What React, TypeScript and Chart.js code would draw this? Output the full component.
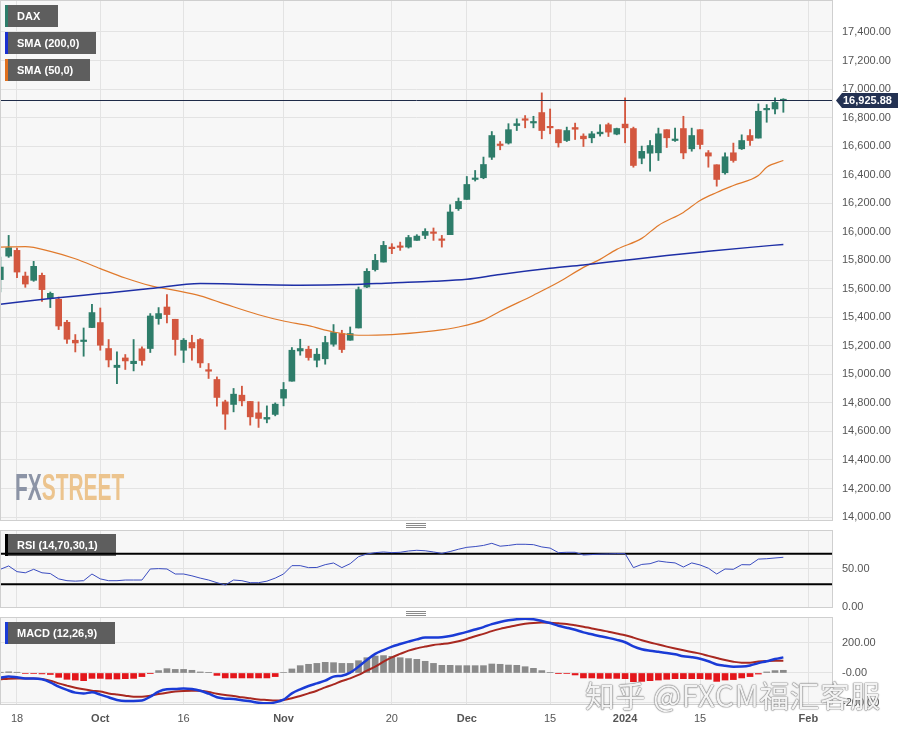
import React, { useEffect, useRef } from 'react';
import { Chart, registerables } from 'chart.js';

Chart.register(...registerables);

const FONT = 'Arial, "Liberation Sans", sans-serif';

// ---- DAX daily candles (trading-day index 0 = 14 Sep 2023 ... 94 = 29 Jan 2024)
const open = [
  15664, 15829, 15869, 15689, 15659, 15694, 15531, 15526, 15365, 15239,
  15230, 15328, 15363, 15181, 15048, 15115, 15075, 15179, 15181, 15391,
  15472, 15386, 15169, 15223, 15244, 15029, 14964, 14807, 14789, 14854,
  14810, 14730, 14686, 14719, 14833, 14952, 15164, 15176, 15099, 15109,
  15211, 15286, 15239, 15325, 15612, 15734, 15787, 15892, 15899, 15892,
  15939, 15974, 15997, 15946, 15979, 16161, 16226, 16366, 16378, 16522,
  16611, 16621, 16744, 16791, 16762, 16835, 16737, 16715, 16639, 16730,
  16670, 16658, 16686, 16750, 16684, 16754, 16723, 16515, 16550, 16553,
  16715, 16639, 16723, 16581, 16715, 16553, 16469, 16413, 16553, 16581,
  16674, 16656, 16854, 16860, 16918,
];
const high = [
  15822, 15974, 15885, 15717, 15792, 15710, 15577, 15542, 15379, 15279,
  15325, 15491, 15465, 15244, 15157, 15139, 15244, 15193, 15426, 15468,
  15559, 15386, 15251, 15274, 15251, 15076, 14982, 14819, 14901, 14917,
  14810, 14807, 14779, 14800, 14943, 15188, 15246, 15197, 15181, 15267,
  15349, 15309, 15332, 15612, 15741, 15841, 15932, 15916, 15927, 15974,
  15979, 16021, 16026, 15974, 16189, 16236, 16387, 16429, 16523, 16702,
  16632, 16757, 16791, 16814, 16809, 16973, 16860, 16715, 16733, 16761,
  16686, 16702, 16750, 16761, 16726, 16938, 16733, 16600, 16639, 16726,
  16715, 16726, 16809, 16726, 16715, 16569, 16469, 16553, 16621, 16679,
  16715, 16896, 16891, 16938, 16932,
];
const low = [
  15577, 15820, 15678, 15610, 15652, 15512, 15468, 15314, 15216, 15157,
  15127, 15328, 15169, 15052, 14935, 15034, 15024, 15064, 15153, 15351,
  15360, 15134, 15083, 15099, 15048, 14971, 14777, 14614, 14737, 14779,
  14644, 14628, 14660, 14709, 14779, 14952, 15134, 15099, 15052, 15071,
  15197, 15153, 15239, 15325, 15608, 15724, 15787, 15846, 15869, 15885,
  15939, 15951, 15939, 15892, 15979, 16149, 16226, 16355, 16371, 16506,
  16574, 16614, 16709, 16728, 16728, 16651, 16686, 16593, 16632, 16646,
  16597, 16623, 16670, 16667, 16679, 16623, 16452, 16476, 16424, 16499,
  16590, 16632, 16511, 16564, 16581, 16452, 16319, 16404, 16487, 16576,
  16604, 16656, 16767, 16826, 16837,
];
const close = [
  15752, 15888, 15717, 15633, 15757, 15594, 15568, 15339, 15246, 15220,
  15233, 15433, 15204, 15101, 15064, 15094, 15092, 15097, 15409, 15426,
  15419, 15244, 15239, 15185, 15080, 15022, 14838, 14721, 14861, 14814,
  14702, 14691, 14698, 14791, 14894, 15169, 15181, 15118, 15141, 15223,
  15293, 15174, 15286, 15594, 15722, 15799, 15904, 15881, 15890, 15959,
  15969, 16002, 15988, 15939, 16138, 16212, 16331, 16376, 16471, 16674,
  16604, 16715, 16757, 16781, 16769, 16709, 16728, 16623, 16709, 16718,
  16651, 16686, 16698, 16698, 16723, 16728, 16464, 16563, 16604, 16686,
  16658, 16646, 16552, 16674, 16611, 16530, 16366, 16525, 16499, 16639,
  16639, 16844, 16861, 16906, 16925.88,
];
const lastPrice = 16925.88;

// ---- moving averages (read at sample trading-day indexes)
const sma200Idx = [0, 6, 12, 18, 24, 30, 36, 42, 47, 52, 56, 60, 66, 70, 75, 80, 85, 90, 94];
const sma200Val = [15491, 15531, 15566, 15601, 15636, 15630, 15625, 15629, 15641, 15652, 15666, 15700, 15743, 15766, 15800, 15833, 15862, 15890, 15911];
const sma50Idx = [0, 3, 6, 9, 12, 15, 18, 21, 24, 27, 31, 34, 37, 40, 43, 47, 52, 55, 58, 60, 64, 67, 70, 72, 74, 77, 79, 82, 84, 86, 88, 91, 92, 94];
const sma50Val = [15892, 15895, 15862, 15810, 15741, 15675, 15622, 15588, 15550, 15492, 15418, 15374, 15341, 15297, 15274, 15279, 15305, 15332, 15380, 15442, 15555, 15645, 15750, 15806, 15876, 15953, 16044, 16135, 16219, 16275, 16324, 16394, 16452, 16499];

// ---- RSI (14)
const rsi = [
  49.6, 54, 46.5, 45, 49.6, 45, 44, 37, 34.6, 34,
  34.6, 43.4, 37, 34.6, 34.6, 35.5, 35.5, 35.5, 50, 50.5,
  50, 43.4, 43.4, 41, 38, 35.5, 32, 29, 35.5, 34.6,
  32, 32, 34, 38, 43.4, 54.4, 54.4, 51.8, 52, 55.7,
  57.9, 51.8, 57, 66.2, 69.7, 71.5, 72.4, 71.5, 72, 73.7,
  74.6, 74, 72.4, 70.6, 73, 76, 78.5, 79.5, 81, 83.8,
  80, 81, 82.5, 82.5, 82, 79, 77.5, 71.5, 72, 72,
  68.4, 69, 69.5, 69.8, 70.2, 70.2, 51.8, 56, 57, 60.5,
  59, 58, 52.6, 58, 55.3, 51, 43.4, 50, 49.6, 55.7,
  55.5, 63, 63.5, 64.5, 65.4,
];
const rsiUpper = 70;
const rsiLower = 30;

// ---- MACD (12,26,9)
const macd = [
  -31, -24, -29, -36, -36, -42, -62, -91, -113, -131,
  -136, -129, -144, -162, -180, -187, -187, -184, -158, -124,
  -109, -107, -104, -107, -118, -138, -162, -171, -173, -182,
  -189, -198, -202, -196, -178, -136, -109, -87, -69, -51,
  -24, -18, 2, 42, 87, 127, 153, 176, 193, 209,
  224, 236, 236, 238, 247, 260, 274, 290, 306, 326,
  340, 351, 359, 362, 359, 347, 333, 315, 302, 288,
  271, 258, 245, 234, 221, 205, 177, 158, 148, 141,
  134, 125, 112, 105, 95, 78, 57, 48, 42, 43,
  50, 66, 78, 93, 104,
];
const signal = [
  -42, -38, -36, -36, -36, -40, -51, -69, -84, -98,
  -109, -118, -124, -136, -144, -151, -158, -158, -151, -140,
  -131, -124, -120, -118, -118, -127, -138, -147, -153, -162,
  -169, -176, -180, -184, -180, -169, -153, -136, -118, -96,
  -76, -53, -36, -13, 16, 42, 76, 104, 127, 149,
  164, 176, 187, 193, 200, 212, 227, 245, 261, 279,
  294, 306, 319, 328, 334, 336, 335, 331, 326, 318,
  309, 297, 287, 275, 263, 252, 236, 218, 203, 190,
  176, 163, 151, 140, 129, 114, 100, 86, 75, 69,
  69, 76, 80, 82, 82,
];
const hist = [
  5, 8, 5, -3, -4, -6, -10, -29, -42, -47,
  -51, -36, -36, -40, -40, -38, -36, -24, -2, 16,
  29, 24, 24, 18, 7, 2, -16, -33, -33, -33,
  -33, -33, -33, -24, 3, 27, 49, 58, 64, 71,
  69, 64, 64, 82, 102, 113, 116, 111, 102, 96,
  91, 78, 64, 51, 51, 49, 49, 49, 49, 60,
  58, 53, 51, 42, 31, 16, 4, -2, -4, -13,
  -33, -33, -36, -36, -36, -38, -58, -56, -51, -47,
  -42, -38, -38, -38, -38, -42, -56, -47, -44, -33,
  -24, -7, 7, 16, 18,
];

// ---- axis ticks
const xTickIdx = [2, 12, 22, 34, 47, 56, 66, 75, 84, 97];
const xTickLabels = ['18', 'Oct', '16', 'Nov', '20', 'Dec', '15', '2024', '15', 'Feb'];
const xTickBold = [false, true, false, true, false, true, false, true, false, true];
const priceTicks = [14000, 14200, 14400, 14600, 14800, 15000, 15200, 15400, 15600, 15800, 16000, 16200, 16400, 16600, 16800, 17000, 17200, 17400];
const rsiTicks = [0, 50];
const macdTicks = [-200, 0, 200];
const macdTickLabels = ['-200.00', '-0.00', '200.00'];

const X_MIN = -0.04;
const X_MAX = 99.96;
const PAD = 18;
const GREEN = '#2e7d6a';
const RED = '#d3573f';
const GRID = '#e3e3e3';
const PLOT_BG = '#f7f7f7';

function fmt(v: number) {
  return v.toLocaleString('en-US', { minimumFractionDigits: 2, maximumFractionDigits: 2 });
}

function xScale(show: boolean): any {
  return {
    type: 'linear',
    min: X_MIN,
    max: X_MAX,
    offset: false,
    afterBuildTicks: (s: any) => {
      s.ticks = xTickIdx.map((v) => ({ value: v }));
    },
    afterFit: show ? (s: any) => { s.height = 26; } : undefined,
    grid: { color: GRID, drawTicks: false, offset: false },
    border: { display: false },
    ticks: show
      ? {
          autoSkip: false,
          maxRotation: 0,
          padding: 8,
          color: '#555',
          font: (ctx: any) => ({ family: FONT, size: 11, weight: xTickBold[ctx.index] ? 'bold' : 'normal' }),
          callback: (_v: any, i: number) => xTickLabels[i],
        }
      : { display: false, callback: (_v: any, i: number) => xTickLabels[i] },
  };
}

function yScale(min: number, max: number, ticks: number[], labels?: string[]): any {
  return {
    type: 'linear',
    position: 'right',
    min,
    max,
    beginAtZero: false,
    afterBuildTicks: (s: any) => {
      s.ticks = ticks.map((v) => ({ value: v }));
    },
    afterFit: (s: any) => {
      s.width = 65;
    },
    grid: { color: GRID, drawTicks: false },
    border: { display: false },
    ticks: {
      autoSkip: false,
      padding: 9,
      color: '#555',
      font: { family: FONT, size: 11 },
      callback: (v: any, i: number) => (labels ? labels[i] : fmt(Number(v))),
    },
  };
}

type Box = { text: string; stripe: string; x: number; y: number; w: number; h: number };

function panelPlugin(boxes: Box[]) {
  return {
    id: 'panel',
    beforeDraw(chart: any) {
      const { ctx, chartArea: a } = chart;
      ctx.save();
      ctx.fillStyle = PLOT_BG;
      ctx.fillRect(a.left, a.top, a.right - a.left, a.bottom - a.top);
      ctx.restore();
    },
    beforeDatasetsDraw(chart: any) {
      const { ctx, chartArea: a } = chart;
      boxes.forEach((b) => {
        ctx.save();
        ctx.fillStyle = '#5e5e5e';
        ctx.fillRect(a.left + b.x, a.top + b.y, b.w, b.h);
        ctx.fillStyle = b.stripe;
        ctx.fillRect(a.left + b.x, a.top + b.y, 3, b.h);
        ctx.fillStyle = '#ffffff';
        ctx.font = 'bold 11px ' + FONT;
        ctx.textBaseline = 'middle';
        ctx.fillText(b.text, a.left + b.x + 12, a.top + b.y + b.h / 2 + 0.5);
        ctx.restore();
      });
    },
    afterDraw(chart: any) {
      const { ctx, chartArea: a } = chart;
      ctx.save();
      ctx.strokeStyle = '#cfcfcf';
      ctx.lineWidth = 1;
      ctx.strokeRect(a.left + 0.5, a.top + 0.5, a.right - a.left - 1, a.bottom - a.top);
      ctx.restore();
    },
  };
}

const priceLabelPlugin = {
  id: 'priceLabel',
  afterDatasetsDraw(chart: any) {
    const { ctx, chartArea: a, scales } = chart;
    const y = Math.round(scales.y.getPixelForValue(lastPrice)) + 0.5;
    ctx.save();
    ctx.strokeStyle = '#1e2b48';
    ctx.lineWidth = 1;
    ctx.beginPath();
    ctx.moveTo(a.left, y);
    ctx.lineTo(a.right, y);
    ctx.stroke();
    ctx.fillStyle = '#233152';
    ctx.beginPath();
    ctx.moveTo(a.right + 3, y);
    ctx.lineTo(a.right + 9, y - 7.5);
    ctx.lineTo(a.right + 65, y - 7.5);
    ctx.lineTo(a.right + 65, y + 7.5);
    ctx.lineTo(a.right + 9, y + 7.5);
    ctx.closePath();
    ctx.fill();
    ctx.fillStyle = '#ffffff';
    ctx.font = 'bold 11px ' + FONT;
    ctx.textBaseline = 'middle';
    ctx.fillText(fmt(lastPrice), a.right + 10, y + 0.5);
    ctx.restore();
  },
};

const candleColor = (i: number) => (close[i] >= open[i] ? GREEN : RED);

const baseOptions = (padBottom: number): any => ({
  animation: false,
  responsive: false,
  events: [],
  layout: { padding: { top: PAD, bottom: padBottom, left: 0, right: 0 } },
  plugins: { legend: { display: false }, tooltip: { enabled: false } },
});

export default function App() {
  const mainRef = useRef<HTMLCanvasElement>(null);
  const rsiRef = useRef<HTMLCanvasElement>(null);
  const macdRef = useRef<HTMLCanvasElement>(null);

  useEffect(() => {
    document.body.style.margin = '0';
    const charts: Chart[] = [];

    charts.push(
      new Chart(mainRef.current as HTMLCanvasElement, {
        type: 'bar',
        data: {
          datasets: [
            {
              type: 'line',
              label: 'SMA (200,0)',
              data: sma200Idx.map((x, i) => ({ x, y: sma200Val[i] })),
              borderColor: '#1e2fa6',
              borderWidth: 1.5,
              pointRadius: 0,
              cubicInterpolationMode: 'monotone',
              order: 0,
            },
            {
              type: 'line',
              label: 'SMA (50,0)',
              data: sma50Idx.map((x, i) => ({ x, y: sma50Val[i] })),
              borderColor: '#e07a2c',
              borderWidth: 1.2,
              pointRadius: 0,
              cubicInterpolationMode: 'monotone',
              order: 0,
            },
            {
              type: 'bar',
              label: 'body',
              data: open.map((o, i) => ({ x: i, y: [o, close[i]] })),
              backgroundColor: (c: any) => candleColor(c.dataIndex),
              barThickness: 6,
              minBarLength: 1.5,
              grouped: false,
              order: 1,
            },
            {
              type: 'bar',
              label: 'wick',
              data: low.map((l, i) => ({ x: i, y: [l, high[i]] })),
              backgroundColor: (c: any) => candleColor(c.dataIndex),
              barThickness: 1.2,
              grouped: false,
              order: 2,
            },
          ] as any,
        },
        options: {
          ...baseOptions(PAD),
          scales: { x: xScale(false), y: yScale(13979, 17624, priceTicks) },
        },
        plugins: [
          panelPlugin([
            { text: 'DAX', stripe: '#2e7d6a', x: 5, y: 5, w: 53, h: 22 },
            { text: 'SMA (200,0)', stripe: '#1a2fd0', x: 5, y: 32, w: 91, h: 22 },
            { text: 'SMA (50,0)', stripe: '#e0701e', x: 5, y: 59, w: 85, h: 22 },
          ]),
          priceLabelPlugin,
        ] as any,
      })
    );

    charts.push(
      new Chart(rsiRef.current as HTMLCanvasElement, {
        type: 'line',
        data: {
          datasets: [
            {
              label: 'RSI',
              data: rsi.map((v, i) => ({ x: i, y: v })),
              borderColor: '#3a4cc0',
              borderWidth: 1,
              pointRadius: 0,
              tension: 0,
            },
            {
              label: '70',
              data: [{ x: X_MIN, y: rsiUpper }, { x: X_MAX, y: rsiUpper }],
              borderColor: '#000000',
              borderWidth: 2,
              pointRadius: 0,
            },
            {
              label: '30',
              data: [{ x: X_MIN, y: rsiLower }, { x: X_MAX, y: rsiLower }],
              borderColor: '#000000',
              borderWidth: 2,
              pointRadius: 0,
            },
          ] as any,
        },
        options: {
          ...baseOptions(PAD),
          scales: { x: xScale(false), y: yScale(0, 101.3, rsiTicks) },
        },
        plugins: [panelPlugin([{ text: 'RSI (14,70,30,1)', stripe: '#000000', x: 5, y: 4, w: 111, h: 22 }])] as any,
      })
    );

    charts.push(
      new Chart(macdRef.current as HTMLCanvasElement, {
        type: 'bar',
        data: {
          datasets: [
            {
              type: 'line',
              label: 'MACD',
              data: macd.map((v, i) => ({ x: i, y: v })),
              borderColor: '#1a3bd6',
              borderWidth: 2.5,
              pointRadius: 0,
              cubicInterpolationMode: 'monotone',
              order: 0,
            },
            {
              type: 'line',
              label: 'Signal',
              data: signal.map((v, i) => ({ x: i, y: v })),
              borderColor: '#a82820',
              borderWidth: 2,
              pointRadius: 0,
              cubicInterpolationMode: 'monotone',
              order: 0,
            },
            {
              type: 'bar',
              label: 'Histogram',
              data: hist.map((v, i) => ({ x: i, y: v })),
              backgroundColor: (c: any) => (hist[c.dataIndex] >= 0 ? '#8a8a8a' : '#e3161b'),
              barThickness: 6,
              grouped: false,
              order: 1,
            },
          ] as any,
        },
        options: {
          ...baseOptions(4),
          scales: { x: xScale(true), y: yScale(-206.7, 373.3, macdTicks, macdTickLabels) },
        },
        plugins: [panelPlugin([{ text: 'MACD (12,26,9)', stripe: '#1a3bd6', x: 5, y: 5, w: 110, h: 22 }])] as any,
      })
    );

    return () => charts.forEach((c) => c.destroy());
  }, []);

  const handle = (top: number) => (
    <div style={{ position: 'absolute', left: 406, top, width: 20, height: 5 }}>
      {[0, 2, 4].map((d) => (
        <div key={d} style={{ position: 'absolute', left: 0, top: d, width: 20, height: 1, background: '#8a8a8a' }} />
      ))}
    </div>
  );

  return (
    <div style={{ position: 'absolute', left: 0, top: 0, width: 898, height: 731, overflow: 'hidden', background: '#ffffff' }}>
      <canvas ref={mainRef} width={898} height={520 + 2 * PAD} style={{ position: 'absolute', left: 0, top: -PAD, display: 'block' }} />
      <canvas ref={rsiRef} width={898} height={77 + 2 * PAD} style={{ position: 'absolute', left: 0, top: 530 - PAD, display: 'block' }} />
      <canvas ref={macdRef} width={898} height={PAD + 87 + 26 + 4} style={{ position: 'absolute', left: 0, top: 617 - PAD, display: 'block' }} />
      <div
        style={{
          position: 'absolute',
          left: 15,
          top: 469,
          fontFamily: FONT,
          fontWeight: 'bold',
          fontSize: 37,
          lineHeight: '37px',
          whiteSpace: 'nowrap',
          transform: 'scaleX(0.565)',
          transformOrigin: 'left top',
          letterSpacing: 0,
        }}
      >
        <span style={{ color: '#8c94a6' }}>FX</span>
        <span style={{ color: '#ecc48e' }}>STREET</span>
      </div>
      {handle(523)}
      {handle(611)}
      <div
        style={{
          position: 'absolute',
          left: 585,
          top: 679,
          fontFamily: '"Noto Sans CJK SC", sans-serif',
          fontSize: 30,
          lineHeight: '30px',
          letterSpacing: '0.4px',
          whiteSpace: 'nowrap',
          color: 'rgba(255,255,255,0.92)',
          textShadow: '0 0 1px #666, 0 0 1px #666, 0 0 2px rgba(0,0,0,0.35)',
        }}
      >
        知乎 @FXCM福汇客服
      </div>
    </div>
  );
}
